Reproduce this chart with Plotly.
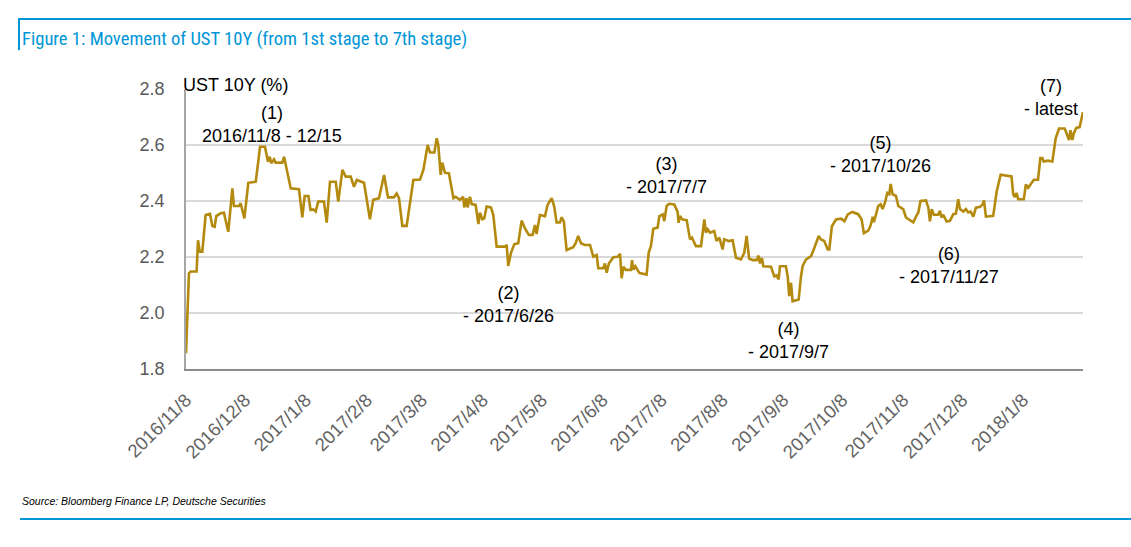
import pandas as pd
import plotly.graph_objects as go

# ---- data (day offsets from 2016-11-08, UST 10Y %) ----
base_date = "2016-11-08"
day_offset = [
    0, 1.5, 2.4, 5.4, 6.1, 7.0, 8.3, 10.0, 12.2, 13.4, 14.6, 15.4, 17.6, 19.3, 21.5,
    23.6, 24.4, 27.0, 27.8, 29.7, 31.7, 35.5, 37.7, 40.2, 41.7, 42.6, 43.4, 44.8, 45.6,
    49.0, 49.9, 53.3, 57.5, 59.2, 60.4, 62.3, 63.4, 64.8, 66.0, 67.3, 70.2, 71.6, 73.3,
    76.2, 77.5, 79.6, 81.3, 83.8, 85.5, 86.9, 90.6, 92.0, 93.6, 95.3, 98.2, 100.8, 102.8,
    105.8, 107.2, 108.4, 110.1, 112.3, 113.0, 114.0, 115.7, 119.1, 120.8, 123.0, 124.2,
    126.4, 127.6, 128.4, 129.6, 130.4, 131.8, 133.8, 136.1, 137.2, 139.4, 141.1, 141.6,
    142.7, 143.3, 144.5, 145.4, 147.4, 148.8, 149.6, 150.8, 151.8, 153.0, 155.2, 156.4,
    158.1, 162.3, 163.2, 164.0, 165.4, 167.1, 169.1, 170.8, 172.5, 174.5, 176.4, 177.6,
    178.4, 180.1, 182.7, 184.0, 186.1, 187.4, 188.6, 190.3, 191.2, 192.3, 193.7, 197.1,
    198.3, 199.6, 201.0, 203.0, 205.6, 207.3, 209.0, 209.8, 212.4, 213.2, 214.1, 215.2,
    217.5, 219.7, 220.9, 221.7, 222.6, 223.8, 226.5, 227.0, 227.7, 228.7, 230.7, 234.4,
    235.5, 236.6, 237.8, 240.0, 240.9, 242.6, 243.4, 244.6, 245.9, 248.5, 250.2, 250.7,
    251.4, 252.7, 254.8, 256.5, 257.5, 259.5, 262.1, 263.8, 264.6, 265.5, 266.7, 268.8,
    270.0, 271.4, 273.1, 273.9, 276.1, 278.2, 279.9, 282.4, 284.1, 285.3, 286.6, 288.4,
    290.4, 291.4, 292.1, 293.1, 293.8, 295.1, 297.7, 299.4, 300.6, 301.6, 302.3, 305.3,
    306.2, 307.0, 307.9, 308.7, 311.8, 312.9, 313.8, 315.5, 318.1, 319.8, 322.0, 323.1,
    324.8, 326.6, 327.4, 328.7, 330.8, 333.4, 335.1, 336.8, 339.1, 342.1, 343.8, 345.0,
    347.2, 348.4, 349.5, 350.1, 351.1, 352.3, 353.5, 354.5, 355.7, 356.9, 357.9, 358.6,
    359.6, 361.3, 362.5, 363.7, 365.0, 366.4, 368.4, 370.1, 371.5, 372.7, 373.8, 376.6,
    377.8, 378.6, 379.5, 380.6, 382.8, 383.7, 384.5, 385.4, 387.1, 388.8, 390.5, 391.8,
    393.0, 393.9, 395.6, 396.9, 398.1, 399.3, 400.7, 402.0, 404.1, 405.4, 406.1, 407.1,
    410.8, 412.6, 414.6, 418.5, 420.1, 421.0, 421.8, 422.7, 423.5, 426.4, 427.4, 428.6,
    430.3, 431.5, 433.6, 434.8, 435.8, 436.5, 438.7, 440.9, 442.6, 444.3, 447.2, 448.4,
    449.4, 450.1, 451.1, 451.8, 453.1, 454.8, 456.5,
]
ust10y = [
    1.856, 2.142, 2.148, 2.148, 2.26, 2.219, 2.219, 2.35, 2.354, 2.311, 2.308, 2.346, 2.356, 2.358, 2.29,
    2.445, 2.382, 2.382, 2.392, 2.338, 2.465, 2.469, 2.594, 2.594, 2.54, 2.558, 2.535, 2.549, 2.537,
    2.537, 2.558, 2.445, 2.442, 2.342, 2.418, 2.418, 2.368, 2.37, 2.362, 2.398, 2.398, 2.323, 2.469,
    2.469, 2.398, 2.511, 2.487, 2.487, 2.451, 2.475, 2.465, 2.404, 2.335, 2.404, 2.41, 2.493, 2.413,
    2.413, 2.427, 2.41, 2.311, 2.311, 2.344, 2.386, 2.475, 2.477, 2.511, 2.6, 2.573,
    2.573, 2.624, 2.6, 2.493, 2.537, 2.501, 2.499, 2.41, 2.415, 2.404, 2.415, 2.377,
    2.41, 2.377, 2.415, 2.389, 2.386, 2.318, 2.358, 2.335, 2.338, 2.38, 2.377, 2.35,
    2.237, 2.237, 2.243, 2.168, 2.215, 2.246, 2.249, 2.33, 2.302, 2.279, 2.279, 2.314,
    2.282, 2.35, 2.346, 2.386, 2.41, 2.38, 2.323, 2.323, 2.342, 2.326, 2.225, 2.235,
    2.249, 2.275, 2.249, 2.243, 2.243, 2.201, 2.207, 2.16, 2.16, 2.177, 2.144, 2.177,
    2.199, 2.201, 2.211, 2.124, 2.165, 2.154, 2.154, 2.189, 2.155, 2.167, 2.143, 2.137,
    2.217, 2.239, 2.301, 2.305, 2.346, 2.352, 2.328, 2.382, 2.39, 2.388, 2.361, 2.322,
    2.346, 2.334, 2.332, 2.263, 2.269, 2.239, 2.239, 2.334, 2.287, 2.299, 2.287, 2.293,
    2.257, 2.269, 2.227, 2.263, 2.257, 2.26, 2.197, 2.191, 2.215, 2.275, 2.194, 2.189,
    2.189, 2.205, 2.177, 2.197, 2.167, 2.167, 2.165, 2.131, 2.134, 2.12, 2.167, 2.167,
    2.131, 2.06, 2.108, 2.042, 2.048, 2.126, 2.167, 2.191, 2.203, 2.233, 2.275, 2.263,
    2.257, 2.227, 2.227, 2.31, 2.334, 2.337, 2.328, 2.352, 2.361, 2.353, 2.335, 2.285,
    2.294, 2.312, 2.344, 2.324, 2.347, 2.382, 2.388, 2.371, 2.394, 2.429, 2.424, 2.461,
    2.424, 2.418, 2.382, 2.376, 2.371, 2.341, 2.332, 2.324, 2.344, 2.359, 2.4, 2.402,
    2.376, 2.327, 2.371, 2.351, 2.351, 2.365, 2.341, 2.351, 2.327, 2.329, 2.353, 2.355,
    2.406, 2.371, 2.362, 2.371, 2.359, 2.362, 2.344, 2.376, 2.379, 2.388, 2.402, 2.344,
    2.347, 2.435, 2.494, 2.488, 2.488, 2.424, 2.414, 2.429, 2.406, 2.406, 2.459, 2.447,
    2.465, 2.476, 2.476, 2.553, 2.553, 2.541, 2.544, 2.541, 2.624, 2.659, 2.659, 2.635,
    2.618, 2.653, 2.618, 2.641, 2.661, 2.664, 2.718,
]

tick_dates = [
    "2016-11-08", "2016-12-08", "2017-01-08", "2017-02-08", "2017-03-08", "2017-04-08",
    "2017-05-08", "2017-06-08", "2017-07-08", "2017-08-08", "2017-09-08", "2017-10-08",
    "2017-11-08", "2017-12-08", "2018-01-08",
]
tick_labels = [
    "2016/11/8", "2016/12/8", "2017/1/8", "2017/2/8", "2017/3/8", "2017/4/8",
    "2017/5/8", "2017/6/8", "2017/7/8", "2017/8/8", "2017/9/8", "2017/10/8",
    "2017/11/8", "2017/12/8", "2018/1/8",
]
y_ticks = [1.8, 2.0, 2.2, 2.4, 2.6, 2.8]

stage_labels = [
    "(1)<br>2016/11/8 - 12/15",
    "(2)<br>- 2017/6/26",
    "(3)<br>- 2017/7/7",
    "(4)<br>- 2017/9/7",
    "(5)<br>- 2017/10/26",
    "(6)<br>- 2017/11/27",
    "(7)<br>- latest",
]
# label placement (paper coordinates)
stage_pos = [
    (0.0959, 0.875), (0.359, 0.2304), (0.5362, 0.691), (0.6722, 0.1018),
    (0.7737, 0.766), (0.8506, 0.3696), (0.9643, 0.968),
]

base = pd.Timestamp(base_date)
dates = base + pd.to_timedelta(day_offset, unit="D")

BLUE = "#0096D6"
LINE = "#B38A0E"
FONT = "Liberation Sans, Arial, sans-serif"

fig = go.Figure()
fig.add_trace(go.Scatter(
    x=dates, y=ust10y, mode="lines",
    line=dict(color=LINE, width=2.6),
    hoverinfo="skip", showlegend=False,
))

fig.update_layout(
    width=1131, height=547,
    margin=dict(l=186, r=48, t=89, b=178, autoexpand=False),
    paper_bgcolor="white", plot_bgcolor="white",
    font=dict(family=FONT, color="#000000"),
    title=dict(
        text="Figure 1: Movement of UST 10Y (from 1st stage to 7th stage)",
        x=22 / 1131, xanchor="left", xref="container",
        y=1 - 38 / 547, yanchor="middle", yref="container",
        font=dict(family="Liberation Sans Narrow, Roboto Condensed, Liberation Sans, Arial", size=18.6, color=BLUE),
    ),
    xaxis=dict(
        type="date",
        range=[dates[0], dates[-1]],
        tickmode="array", tickvals=tick_dates, ticktext=tick_labels,
        tickangle=-45,
        tickfont=dict(family=FONT, size=18.5, color="#636363"),
        showgrid=False, zeroline=False,
        showline=True, linecolor="#8C8C8C", linewidth=2,
        ticks="", automargin=False, ticklabelstandoff=11,
    ),
    yaxis=dict(
        range=[1.8, 2.8],
        tickmode="array", tickvals=y_ticks, tickformat=".1f",
        tickfont=dict(family=FONT, size=18, color="#595959"),
        showgrid=True, gridcolor="#D9D9D9", gridwidth=1.5,
        zeroline=False,
        showline=True, linecolor="#A6A6A6", linewidth=1.5,
        ticks="", ticklabelstandoff=16, automargin=False,
    ),
)

annotations = []
for txt, (ax, ay) in zip(stage_labels, stage_pos):
    annotations.append(dict(
        text=txt, x=ax, y=ay, xref="paper", yref="paper",
        xanchor="center", yanchor="middle", showarrow=False, align="center",
        font=dict(family=FONT, size=18, color="#000000"),
    ))
annotations.append(dict(
    text="UST 10Y (%)", x=-0.0056, y=1.0143, xref="paper", yref="paper",
    xanchor="left", yanchor="middle", showarrow=False,
    font=dict(family=FONT, size=18, color="#000000"),
))
annotations.append(dict(
    text="<i>Source: Bloomberg Finance LP, Deutsche Securities</i>",
    x=-0.1851, y=-0.4714, xref="paper", yref="paper",
    xanchor="left", yanchor="middle", showarrow=False,
    font=dict(family=FONT, size=10.5, color="#000000"),
))
fig.update_layout(annotations=annotations)

shapes = [
    dict(type="line", xref="paper", yref="paper", x0=-0.1873, x1=1.06, y0=1.25, y1=1.25,
         line=dict(color=BLUE, width=2)),
    dict(type="line", xref="paper", yref="paper", x0=-0.1862, x1=-0.1862, y0=1.25, y1=1.139,
         line=dict(color=BLUE, width=2)),
    dict(type="line", xref="paper", yref="paper", x0=-0.185, x1=1.06, y0=-0.5357, y1=-0.5357,
         line=dict(color=BLUE, width=2)),
]
fig.update_layout(shapes=shapes)

fig.write_html(
    "out.html",
    config={"displayModeBar": False},
    post_script="document.body.style.margin='0px';",
)
